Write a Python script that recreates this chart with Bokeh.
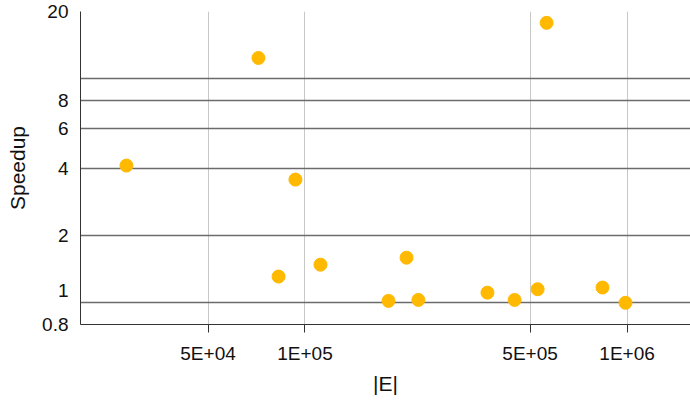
from bokeh.plotting import figure
from bokeh.models import FixedTicker, Range1d
from bokeh.embed import file_html
from bokeh.resources import INLINE

# data (|E|, speedup)
edges = [27900, 71700, 93400, 82800, 111700, 181700, 206700, 225000,
         368600, 447600, 527600, 562600, 839000, 989000]
speedup = [4.10, 12.4, 3.55, 1.31, 1.48, 1.02, 1.59, 1.03,
           1.11, 1.03, 1.15, 17.8, 1.17, 1.00]

x_ticks = [5e4, 1e5, 5e5, 1e6]
x_tick_labels = ["5E+04", "1E+05", "5E+05", "1E+06"]
y_ticks = [0.8, 1, 2, 4, 6, 8, 10, 20]
y_tick_labels = ["0.8", "1\n", "2", "4", "6", "8", "", "20"]

FONT = "Liberation Sans"
DARK = "#6b6b6b"

p = figure(frame_width=610, frame_height=313, x_axis_type="log", y_axis_type="log",
           x_range=Range1d(20090, 1.574e6), y_range=Range1d(0.8, 20),
           output_backend="svg", toolbar_location=None,
           min_border_left=80, min_border_right=0, min_border_top=11,
           min_border_bottom=80)
p.outline_line_color = None
p.background_fill_color = "white"

p.scatter(edges, speedup, size=13, color="#FFB900", line_color="#FFB900")

# x axis
p.xaxis.ticker = FixedTicker(ticks=x_ticks)
p.xaxis.major_label_overrides = {t: l for t, l in zip(x_ticks, x_tick_labels)}
p.xaxis.axis_label = "|E|"
p.xaxis.major_tick_out = 8
p.xaxis.major_tick_in = 0
p.xaxis.minor_tick_out = 0
p.xaxis.minor_tick_in = 0
p.xaxis.major_tick_line_color = "#333333"
p.xaxis.axis_line_color = "#333333"
p.xaxis.major_label_standoff = 10
p.xaxis.axis_label_standoff = 5

# y axis
p.yaxis.ticker = FixedTicker(ticks=y_ticks)
p.yaxis.major_label_overrides = {t: l for t, l in zip(y_ticks, y_tick_labels)}
p.yaxis.axis_label = "Speedup"
p.yaxis.major_tick_out = 0
p.yaxis.major_tick_in = 0
p.yaxis.minor_tick_out = 0
p.yaxis.minor_tick_in = 0
p.yaxis.axis_line_color = "#333333"
p.yaxis.major_label_standoff = 12
p.yaxis.axis_label_standoff = 10

for ax in (p.xaxis, p.yaxis):
    ax.major_label_text_font = FONT
    ax.major_label_text_font_size = "19px"
    ax.major_label_text_color = "#111111"
    ax.axis_label_text_font = FONT
    ax.axis_label_text_font_size = "21px"
    ax.axis_label_text_font_style = "normal"
    ax.axis_label_text_color = "#111111"

p.xgrid.ticker = FixedTicker(ticks=x_ticks)
p.xgrid.grid_line_color = "#c8c8c8"
p.xgrid.grid_line_width = 1
p.ygrid.ticker = FixedTicker(ticks=y_ticks)
p.ygrid.grid_line_color = DARK
p.ygrid.grid_line_width = 1.5

open("out.html", "w").write(file_html(p, INLINE))
